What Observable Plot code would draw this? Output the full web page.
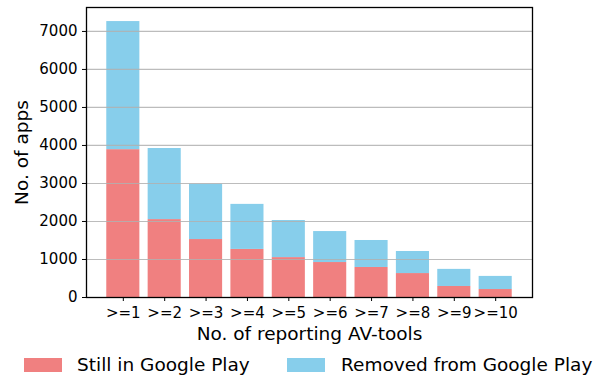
<!DOCTYPE html>
<html>
<head>
<meta charset="utf-8">
<script src="https://cdn.jsdelivr.net/npm/d3@7"></script>
<script src="https://cdn.jsdelivr.net/npm/@observablehq/plot@0.6"></script>
<style>
  html, body { margin: 0; padding: 0; background: #fff; }
  #wrap { position: relative; width: 607px; height: 377px; font-family: "DejaVu Sans", sans-serif; }
  #legend { position: absolute; left: 0; top: 345px; width: 607px; height: 32px; }
  .sw { position: absolute; top: 13px; width: 38px; height: 14px; }
  .lt { position: absolute; top: 11px; font-size: 18.5px; line-height: 18.5px; color: #000; white-space: nowrap; }
</style>
</head>
<body>
<div id="wrap">
  <div id="chart"></div>
  <div id="legend"></div>
</div>
<script>
// Data
const categories = [">=1", ">=2", ">=3", ">=4", ">=5", ">=6", ">=7", ">=8", ">=9", ">=10"];
const stillInPlay = [3890, 2050, 1525, 1265, 1050, 920, 790, 630, 290, 210];
const removedFromPlay = [3370, 1870, 1455, 1185, 975, 815, 710, 580, 450, 345];
const seriesNames = ["Still in Google Play", "Removed from Google Play"];
const seriesColors = ["#F08080", "#87CEEB"];
const yTicks = [0, 1000, 2000, 3000, 4000, 5000, 6000, 7000];
const xLabel = "No. of reporting AV-tools";
const yLabel = "No. of apps";

const rows = categories.flatMap((c, i) => [
  {cat: c, status: seriesNames[0], n: stillInPlay[i]},
  {cat: c, status: seriesNames[1], n: removedFromPlay[i]}
]);

const chart = Plot.plot({
  width: 607,
  height: 345,
  marginLeft: 86,
  marginRight: 75,
  marginTop: 7,
  marginBottom: 48,
  style: {fontFamily: "DejaVu Sans", fontSize: "15px", background: "#fff", color: "#000"},
  x: {type: "band", domain: categories, paddingInner: 0.2, paddingOuter: 0.49, round: false},
  y: {domain: [0, 7630]},
  color: {domain: seriesNames, range: seriesColors},
  marks: [
    Plot.barY(rows, {x: "cat", y: "n", fill: "status"}),
    Plot.ruleY(yTicks.slice(1), {stroke: "#b0b0b0", strokeWidth: 1.2, strokeOpacity: 0.85}),
    Plot.frame({stroke: "#000", strokeWidth: 1.3}),
    Plot.axisY({ticks: yTicks, tickSize: 4, tickPadding: 5, tickFormat: d => String(d), label: null, fontSize: 15}),
    Plot.axisX({tickSize: 4, tickPadding: 6, label: null, fontSize: 15}),
    Plot.text([xLabel], {text: d => d, frameAnchor: "bottom", dy: 42, textAnchor: "middle", lineAnchor: "bottom", fontSize: 18.5, fill: "#000"}),
    Plot.text([yLabel], {text: d => d, frameAnchor: "left", dx: -58.5, rotate: -90, textAnchor: "middle", lineAnchor: "bottom", fontSize: 18.5, fill: "#000"})
  ]
});
document.getElementById("chart").appendChild(chart);

// Legend below the chart
const legend = document.getElementById("legend");
const swX = [24, 287];
const txX = [77, 341];
seriesNames.forEach((name, i) => {
  const sw = document.createElement("div");
  sw.className = "sw";
  sw.style.left = swX[i] + "px";
  sw.style.background = seriesColors[i];
  legend.appendChild(sw);
  const t = document.createElement("div");
  t.className = "lt";
  t.style.left = txX[i] + "px";
  t.textContent = name;
  legend.appendChild(t);
});
</script>
</body>
</html>
